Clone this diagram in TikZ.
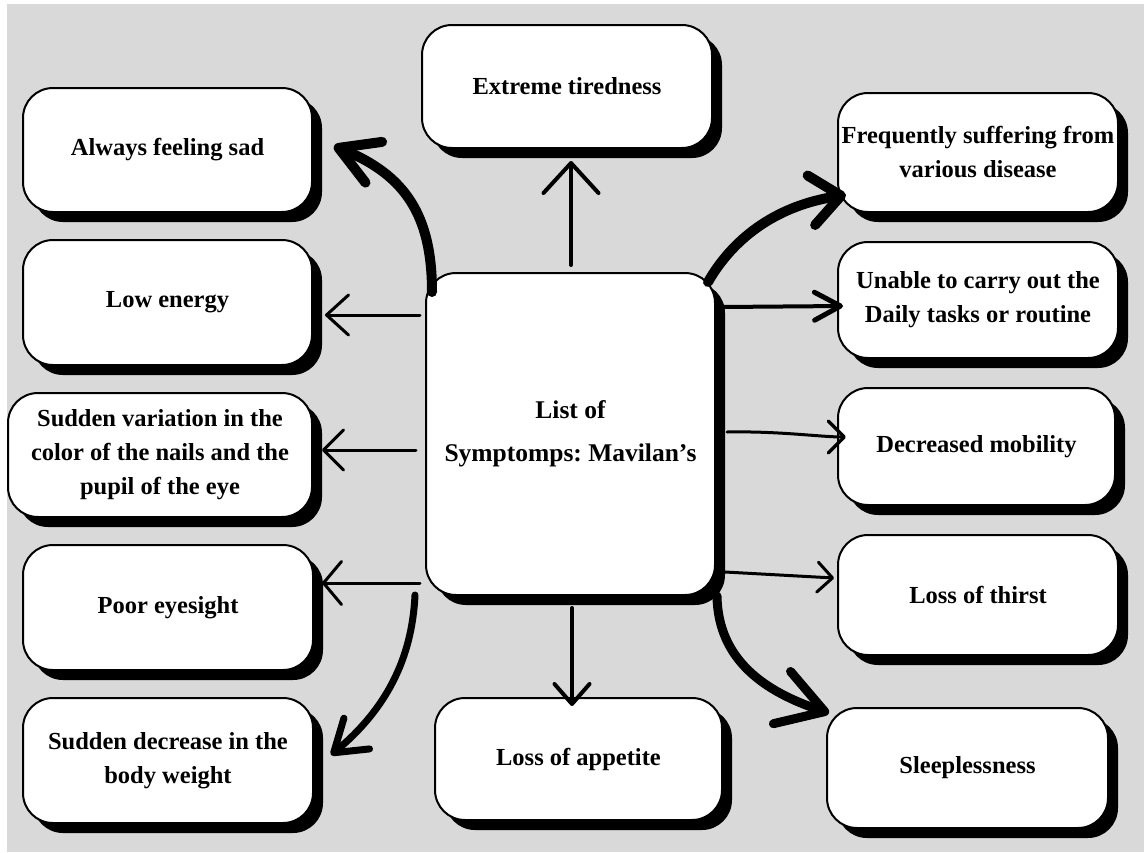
\documentclass[tikz,border=0pt]{standalone}
\usepackage{fontspec}
\setmainfont{Liberation Serif}
\frenchspacing
\usetikzlibrary{arrows.meta,shadows,calc}
\definecolor{bggray}{RGB}{217,217,217}
\begin{document}
\begin{tikzpicture}[x=1pt,y=-1pt,
  card/.style={draw=black, line width=2pt, fill=white, rounded corners=30pt,
    align=center, inner sep=0pt, outer sep=0pt,
    font=\fontsize{24.5}{34}\selectfont\bfseries,
    drop shadow={shadow xshift=10pt, shadow yshift=-10pt, opacity=1, fill=black}},
  hub/.style={card, font=\fontsize{25.5}{43}\selectfont\bfseries},
  link/.style={line width=#1, line cap=round},
  barb/.style n args={3}{arrows={-{Straight Barb[length=#1,width=#2,line width=#3,round]}}}
]
% page and backdrop
\useasboundingbox (0,0) rectangle (1144,852);
\fill[bggray] (7,4) rectangle (1144,852);

% central node
\node[hub, minimum width=289pt, minimum height=322pt] (ctr) at (570.5,434)
  {List of\\Symptomps: Mavilan’s};

% symptom cards
\node[card, minimum width=289pt, minimum height=124pt] (sad)    at (167.5,150)   {Always feeling sad};
\node[card, minimum width=290pt, minimum height=123pt] (tired)  at (567,86.5)    {Extreme tiredness};
\node[card, minimum width=280pt, minimum height=119pt] (freq)   at (978,152.5)   {Frequently suffering from\\various disease};
\node[card, minimum width=280pt, minimum height=116pt] (unable) at (978,300)     {Unable to carry out the\\Daily tasks or routine};
\node[card, minimum width=289pt, minimum height=125pt] (low)    at (167.5,302.5) {Low energy};
\node[card, minimum width=304pt, minimum height=124pt] (var)    at (160,455)     {Sudden variation in the\\color of the nails and the\\pupil of the eye};
\node[card, minimum width=290pt, minimum height=125pt] (poor)   at (168,607.5)   {Poor eyesight};
\node[card, minimum width=290pt, minimum height=125pt] (dec)    at (168,760.5)   {Sudden decrease in the\\body weight};
\node[card, minimum width=287pt, minimum height=122pt] (app)    at (578.5,759)   {Loss of appetite};
\node[card, minimum width=277pt, minimum height=117pt] (mob)    at (976.5,446.5) {Decreased mobility};
\node[card, minimum width=280pt, minimum height=120pt] (thirst) at (978,595)     {Loss of thirst};
\node[card, minimum width=281pt, minimum height=120pt] (sleep)  at (967.5,768)   {Sleeplessness};

% heavy curved connectors
\draw[link=10pt, barb={38pt}{44pt}{10pt}]
  ($(ctr.north west)+(6,19)$) .. controls (432,215) and (405,175) .. ($(sad.east)+(22,-4)$);
\draw[link=10pt, barb={30pt}{50pt}{10pt}]
  ($(ctr.north east)+(-7,9)$) .. controls (735,235) and (780,205) .. ($(freq.south west)+(8,-17)$);
\draw[link=7pt, barb={30pt}{40pt}{7pt}]
  ($(ctr.south west)+(-11,0)$) .. controls (412,660) and (385,710) .. ($(dec.east)+(18,-5.5)$);
\draw[link=9pt, barb={45pt}{55pt}{9pt}]
  ($(ctr.south east)+(2,1)$) .. controls (718,660) and (765,692) .. ($(sleep.north west)+(2,5)$);

% straight connectors
\draw[link=4pt, barb={30pt}{55pt}{4pt}] ($(ctr.north)+(0.5,-8)$) -- ($(tired.south)+(4,13)$);
\draw[link=4pt, barb={20pt}{35pt}{4pt}] ($(ctr.south)+(1.5,13)$) -- ($(app.north)+(-6.5,8)$);
\draw[link=4pt, barb={26pt}{28pt}{5pt}] ($(ctr.north east)+(7,34)$) -- ($(unable.west)+(5,6)$);
\draw[link=3pt, barb={22pt}{40pt}{3pt}] ($(ctr.north west)+(-6,42)$) -- ($(low.east)+(13,12.5)$);
\draw[link=3pt, barb={20pt}{40pt}{3pt}] ($(ctr.west)+(-10,16)$) -- ($(var.east)+(10,-5)$);
\draw[link=3pt, barb={18pt}{43pt}{3pt}] ($(ctr.south west)+(-6,-12)$) -- ($(poor.east)+(9,-24.5)$);
\draw[link=3pt, barb={16pt}{32pt}{3.5pt}] ($(ctr.east)+(12,-2)$) .. controls (780,431) and (820,437) .. ($(mob.west)+(8,-9.5)$);
\draw[link=3pt, barb={15pt}{30pt}{3pt}] ($(ctr.south east)+(10,-23)$) -- ($(thirst.west)+(-4,-17)$);
\end{tikzpicture}
\end{document}
